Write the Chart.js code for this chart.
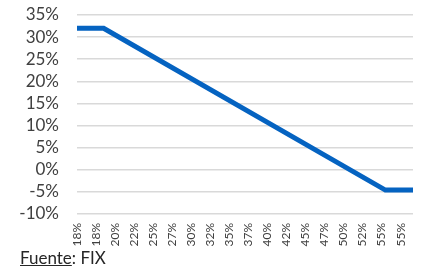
<!DOCTYPE html>
<html>
<head>
<meta charset="utf-8">
<script src="https://cdn.jsdelivr.net/npm/chart.js@4/dist/chart.umd.min.js"></script>
<style>
    body { margin: 0; background: #fff; }
    #wrap { position: relative; width: 422px; height: 270px; }
    #source {
        position: absolute; left: 20px; top: 247px;
        font-family: Lato, sans-serif; font-size: 17px; color: #262626;
    }
    #source u { text-decoration-thickness: 1px; }
</style>
</head>
<body>
<div id="wrap">
    <canvas id="tax-chart" width="422" height="270"></canvas>
    <div id="source"><u>Fuente</u>: FIX</div>
</div>
<script>
// tick labels along the bottom axis (one per category slot)
const xLabels = ['18%', '18%', '20%', '22%', '25%', '27%', '30%', '32%', '35%',
                 '37%', '40%', '42%', '45%', '47%', '50%', '52%', '55%', '55%']

// line vertices, x in category slot units, y in percent
const lineX = [0, 1.4, 16.2, 17.65]
const lineY = [32, 32, -4.6, -4.6]

const yTicks = [-10, -5, 0, 5, 10, 15, 20, 25, 30, 35]

const points = lineX.map((x, i) => ({ x: x, y: lineY[i] }))

new Chart('tax-chart', {
    type: 'line',
    data: {
        datasets: [{
            data: points,
            borderColor: '#0563c1',
            borderWidth: 5,
            pointRadius: 0,
            tension: 0,
            borderJoinStyle: 'miter'
        }]
    },
    options: {
        responsive: false,
        animation: false,
        layout: { padding: { top: 15, right: 9, bottom: 0, left: 0 } },
        plugins: {
            legend: { display: false },
            tooltip: { enabled: false }
        },
        scales: {
            x: {
                type: 'linear',
                min: 0,
                max: 17.65,
                grid: { display: false, drawTicks: false },
                border: { display: false },
                afterBuildTicks: axis => {
                    axis.ticks = xLabels.map((_, i) => ({ value: i }))
                },
                afterFit: axis => {
                    axis.height = 56
                    axis.paddingLeft = 0
                    axis.paddingRight = 0
                },
                ticks: {
                    autoSkip: false,
                    minRotation: 90,
                    maxRotation: 90,
                    padding: 9,
                    color: '#404040',
                    font: { family: 'Lato', size: 12 },
                    callback: v => xLabels[v]
                }
            },
            y: {
                min: yTicks[0],
                max: yTicks[yTicks.length - 1],
                grid: { color: '#d9d9d9', lineWidth: 1.5, drawTicks: false },
                border: { display: false },
                afterBuildTicks: axis => {
                    axis.ticks = yTicks.map(v => ({ value: v }))
                },
                afterFit: axis => {
                    axis.width = 77
                    axis.paddingTop = 0
                    axis.paddingBottom = 0
                },
                ticks: {
                    autoSkip: false,
                    padding: 18,
                    color: '#404040',
                    font: { family: 'Lato', size: 17 },
                    callback: v => v + '%'
                }
            }
        }
    }
})
</script>
</body>
</html>
